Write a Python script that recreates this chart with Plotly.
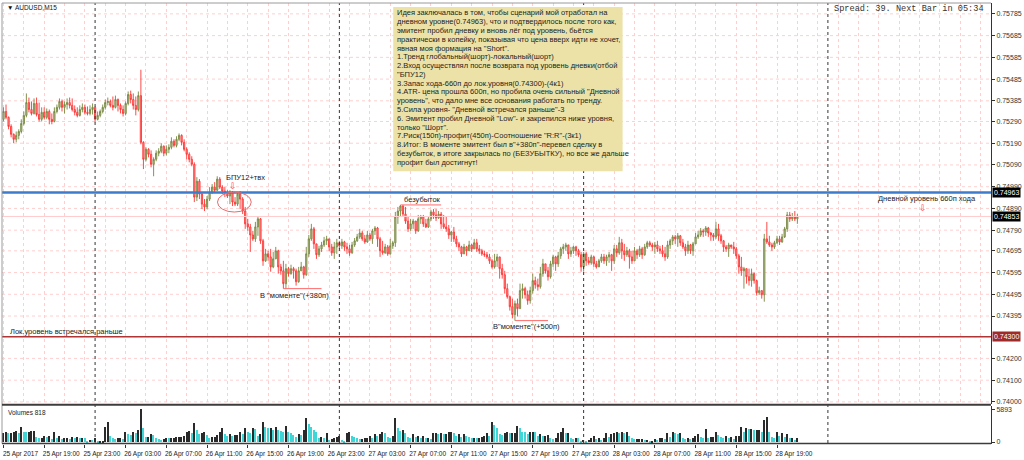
import pandas as pd
import plotly.graph_objects as go

# ---------------- AUDUSD M15 bars, 25 Apr 2017 15:00 onward ----------------
bar_open = [
    0.75300, 0.75336, 0.75309, 0.75267, 0.75231, 0.75208, 0.75226, 0.75244, 0.75281, 0.75318,
    0.75377, 0.75345, 0.75327, 0.75373, 0.75322, 0.75300, 0.75332, 0.75309, 0.75336, 0.75300,
    0.75290, 0.75336, 0.75355, 0.75382, 0.75355, 0.75368, 0.75377, 0.75364, 0.75345, 0.75332,
    0.75318, 0.75345, 0.75355, 0.75332, 0.75327, 0.75345, 0.75355, 0.75300, 0.75318, 0.75336,
    0.75355, 0.75377, 0.75382, 0.75364, 0.75355, 0.75391, 0.75364, 0.75345, 0.75327, 0.75373,
    0.75414, 0.75391, 0.75364, 0.75345, 0.75409, 0.75194, 0.75116, 0.75162, 0.75139, 0.75093,
    0.75116, 0.75144, 0.75153, 0.75176, 0.75144, 0.75162, 0.75171, 0.75199, 0.75180, 0.75208,
    0.75226, 0.75194, 0.75162, 0.75139, 0.75116, 0.75093, 0.74942, 0.75015, 0.74956, 0.74910,
    0.74897, 0.74933, 0.74965, 0.74988, 0.74974, 0.75025, 0.74988, 0.74970, 0.74961, 0.74947,
    0.74965, 0.74919, 0.74910, 0.74956, 0.74933, 0.74878, 0.74819, 0.74805, 0.74768, 0.74750,
    0.74805, 0.74842, 0.74741, 0.74649, 0.74681, 0.74667, 0.74621, 0.74658, 0.74695, 0.74621,
    0.74603, 0.74544, 0.74613, 0.74590, 0.74613, 0.74603, 0.74553, 0.74603, 0.74621, 0.74585,
    0.74681, 0.74750, 0.74796, 0.74727, 0.74677, 0.74704, 0.74722, 0.74741, 0.74750, 0.74713,
    0.74686, 0.74713, 0.74732, 0.74718, 0.74736, 0.74713, 0.74704, 0.74686, 0.74722, 0.74741,
    0.74759, 0.74777, 0.74750, 0.74736, 0.74768, 0.74750, 0.74787, 0.74800, 0.74750, 0.74695,
    0.74686, 0.74713, 0.74681, 0.74718, 0.74732, 0.74851, 0.74878, 0.74901, 0.74864, 0.74832,
    0.74796, 0.74819, 0.74832, 0.74787, 0.74842, 0.74851, 0.74819, 0.74805, 0.74842, 0.74874,
    0.74860, 0.74846, 0.74864, 0.74819, 0.74805, 0.74796, 0.74768, 0.74782, 0.74750, 0.74727,
    0.74713, 0.74681, 0.74713, 0.74695, 0.74722, 0.74704, 0.74732, 0.74704, 0.74695, 0.74681,
    0.74677, 0.74667, 0.74649, 0.74621, 0.74649, 0.74667, 0.74613, 0.74585, 0.74521, 0.74484,
    0.74438, 0.74402, 0.74452, 0.74429, 0.74512, 0.74521, 0.74493, 0.74466, 0.74512, 0.74558,
    0.74539, 0.74530, 0.74590, 0.74635, 0.74603, 0.74576, 0.74635, 0.74667, 0.74635, 0.74672,
    0.74704, 0.74713, 0.74722, 0.74681, 0.74695, 0.74713, 0.74695, 0.74677, 0.74621, 0.74681,
    0.74649, 0.74640, 0.74667, 0.74635, 0.74621, 0.74649, 0.74667, 0.74649, 0.74667, 0.74677,
    0.74649, 0.74704, 0.74686, 0.74732, 0.74695, 0.74677, 0.74695, 0.74667, 0.74649, 0.74695,
    0.74677, 0.74704, 0.74677, 0.74713, 0.74732, 0.74722, 0.74713, 0.74722, 0.74704, 0.74695,
    0.74681, 0.74667, 0.74722, 0.74741, 0.74759, 0.74750, 0.74764, 0.74732, 0.74713, 0.74695,
    0.74722, 0.74695, 0.74727, 0.74759, 0.74768, 0.74787, 0.74782, 0.74800, 0.74777, 0.74768,
    0.74759, 0.74796, 0.74764, 0.74741, 0.74713, 0.74704, 0.74722, 0.74713, 0.74704, 0.74672,
    0.74621, 0.74603, 0.74613, 0.74576, 0.74558, 0.74590, 0.74558, 0.74502, 0.74512, 0.74493,
    0.74750, 0.74736, 0.74722, 0.74713, 0.74732, 0.74750, 0.74736, 0.74759, 0.74796, 0.74860,
    0.74842, 0.74851, 0.74842,
]

bar_close = [
    0.75336, 0.75309, 0.75267, 0.75231, 0.75208, 0.75226, 0.75244, 0.75281, 0.75318, 0.75377,
    0.75345, 0.75327, 0.75373, 0.75322, 0.75300, 0.75332, 0.75309, 0.75336, 0.75300, 0.75290,
    0.75336, 0.75355, 0.75382, 0.75355, 0.75368, 0.75377, 0.75364, 0.75345, 0.75332, 0.75318,
    0.75345, 0.75355, 0.75332, 0.75327, 0.75345, 0.75355, 0.75300, 0.75318, 0.75336, 0.75355,
    0.75377, 0.75382, 0.75364, 0.75355, 0.75391, 0.75364, 0.75345, 0.75327, 0.75373, 0.75414,
    0.75391, 0.75364, 0.75345, 0.75409, 0.75194, 0.75116, 0.75162, 0.75139, 0.75093, 0.75116,
    0.75144, 0.75153, 0.75176, 0.75144, 0.75162, 0.75171, 0.75199, 0.75180, 0.75208, 0.75226,
    0.75194, 0.75162, 0.75139, 0.75116, 0.75093, 0.74942, 0.75015, 0.74956, 0.74910, 0.74897,
    0.74933, 0.74965, 0.74988, 0.74974, 0.75025, 0.74988, 0.74970, 0.74961, 0.74947, 0.74965,
    0.74919, 0.74910, 0.74956, 0.74933, 0.74878, 0.74819, 0.74805, 0.74768, 0.74750, 0.74805,
    0.74842, 0.74741, 0.74649, 0.74681, 0.74667, 0.74621, 0.74658, 0.74695, 0.74621, 0.74603,
    0.74544, 0.74613, 0.74590, 0.74613, 0.74603, 0.74553, 0.74603, 0.74621, 0.74585, 0.74681,
    0.74750, 0.74796, 0.74727, 0.74677, 0.74704, 0.74722, 0.74741, 0.74750, 0.74713, 0.74686,
    0.74713, 0.74732, 0.74718, 0.74736, 0.74713, 0.74704, 0.74686, 0.74722, 0.74741, 0.74759,
    0.74777, 0.74750, 0.74736, 0.74768, 0.74750, 0.74787, 0.74800, 0.74750, 0.74695, 0.74686,
    0.74713, 0.74681, 0.74718, 0.74732, 0.74851, 0.74878, 0.74901, 0.74864, 0.74832, 0.74796,
    0.74819, 0.74832, 0.74787, 0.74842, 0.74851, 0.74819, 0.74805, 0.74842, 0.74874, 0.74860,
    0.74846, 0.74864, 0.74819, 0.74805, 0.74796, 0.74768, 0.74782, 0.74750, 0.74727, 0.74713,
    0.74681, 0.74713, 0.74695, 0.74722, 0.74704, 0.74732, 0.74704, 0.74695, 0.74681, 0.74677,
    0.74667, 0.74649, 0.74621, 0.74649, 0.74667, 0.74613, 0.74585, 0.74521, 0.74484, 0.74438,
    0.74402, 0.74452, 0.74429, 0.74512, 0.74521, 0.74493, 0.74466, 0.74512, 0.74558, 0.74539,
    0.74530, 0.74590, 0.74635, 0.74603, 0.74576, 0.74635, 0.74667, 0.74635, 0.74672, 0.74704,
    0.74713, 0.74722, 0.74681, 0.74695, 0.74713, 0.74695, 0.74677, 0.74621, 0.74681, 0.74649,
    0.74640, 0.74667, 0.74635, 0.74621, 0.74649, 0.74667, 0.74649, 0.74667, 0.74677, 0.74649,
    0.74704, 0.74686, 0.74732, 0.74695, 0.74677, 0.74695, 0.74667, 0.74649, 0.74695, 0.74677,
    0.74704, 0.74677, 0.74713, 0.74732, 0.74722, 0.74713, 0.74722, 0.74704, 0.74695, 0.74681,
    0.74667, 0.74722, 0.74741, 0.74759, 0.74750, 0.74764, 0.74732, 0.74713, 0.74695, 0.74722,
    0.74695, 0.74727, 0.74759, 0.74768, 0.74787, 0.74782, 0.74800, 0.74777, 0.74768, 0.74759,
    0.74796, 0.74764, 0.74741, 0.74713, 0.74704, 0.74722, 0.74713, 0.74704, 0.74672, 0.74621,
    0.74603, 0.74613, 0.74576, 0.74558, 0.74590, 0.74558, 0.74502, 0.74512, 0.74493, 0.74750,
    0.74736, 0.74722, 0.74713, 0.74732, 0.74750, 0.74736, 0.74759, 0.74796, 0.74860, 0.74842,
    0.74851, 0.74842, 0.74853,
]

bar_high = [
    0.75355, 0.75368, 0.75313, 0.75277, 0.75235, 0.75244, 0.75254, 0.75300, 0.75336, 0.75419,
    0.75400, 0.75382, 0.75396, 0.75400, 0.75377, 0.75355, 0.75355, 0.75350, 0.75345, 0.75327,
    0.75355, 0.75368, 0.75396, 0.75391, 0.75382, 0.75396, 0.75400, 0.75396, 0.75364, 0.75355,
    0.75364, 0.75373, 0.75368, 0.75359, 0.75364, 0.75373, 0.75359, 0.75336, 0.75345, 0.75368,
    0.75391, 0.75400, 0.75391, 0.75405, 0.75409, 0.75396, 0.75373, 0.75364, 0.75382, 0.75428,
    0.75432, 0.75419, 0.75405, 0.75428, 0.75528, 0.75199, 0.75171, 0.75167, 0.75157, 0.75125,
    0.75157, 0.75167, 0.75190, 0.75180, 0.75180, 0.75185, 0.75217, 0.75208, 0.75222, 0.75235,
    0.75231, 0.75208, 0.75171, 0.75148, 0.75130, 0.75102, 0.75034, 0.75025, 0.74965, 0.74933,
    0.74947, 0.74988, 0.75002, 0.75011, 0.75038, 0.75034, 0.74997, 0.74988, 0.74974, 0.74974,
    0.74970, 0.74942, 0.74965, 0.74970, 0.74942, 0.74897, 0.74842, 0.74819, 0.74787, 0.74828,
    0.74855, 0.74846, 0.74750, 0.74704, 0.74695, 0.74704, 0.74690, 0.74713, 0.74700, 0.74635,
    0.74649, 0.74635, 0.74621, 0.74631, 0.74621, 0.74613, 0.74621, 0.74644, 0.74626, 0.74713,
    0.74768, 0.74819, 0.74805, 0.74727, 0.74718, 0.74736, 0.74759, 0.74764, 0.74750, 0.74727,
    0.74736, 0.74750, 0.74741, 0.74750, 0.74741, 0.74732, 0.74722, 0.74736, 0.74754, 0.74773,
    0.74796, 0.74787, 0.74768, 0.74787, 0.74777, 0.74796, 0.74809, 0.74805, 0.74759, 0.74741,
    0.74727, 0.74722, 0.74750, 0.74741, 0.74874, 0.74897, 0.74906, 0.74906, 0.74897, 0.74851,
    0.74842, 0.74842, 0.74832, 0.74860, 0.74860, 0.74860, 0.74842, 0.74851, 0.74883, 0.74887,
    0.74887, 0.74878, 0.74874, 0.74860, 0.74851, 0.74814, 0.74787, 0.74805, 0.74764, 0.74736,
    0.74718, 0.74727, 0.74718, 0.74741, 0.74727, 0.74750, 0.74750, 0.74722, 0.74704, 0.74695,
    0.74690, 0.74681, 0.74658, 0.74681, 0.74681, 0.74667, 0.74635, 0.74603, 0.74544, 0.74489,
    0.74475, 0.74466, 0.74475, 0.74544, 0.74544, 0.74530, 0.74512, 0.74530, 0.74590, 0.74576,
    0.74567, 0.74621, 0.74658, 0.74635, 0.74621, 0.74649, 0.74677, 0.74672, 0.74690, 0.74713,
    0.74727, 0.74732, 0.74722, 0.74713, 0.74718, 0.74718, 0.74704, 0.74690, 0.74690, 0.74690,
    0.74667, 0.74677, 0.74672, 0.74649, 0.74658, 0.74681, 0.74681, 0.74677, 0.74690, 0.74681,
    0.74722, 0.74722, 0.74759, 0.74750, 0.74727, 0.74713, 0.74704, 0.74695, 0.74713, 0.74704,
    0.74718, 0.74713, 0.74727, 0.74741, 0.74741, 0.74732, 0.74736, 0.74741, 0.74718, 0.74722,
    0.74713, 0.74741, 0.74750, 0.74768, 0.74768, 0.74777, 0.74768, 0.74750, 0.74727, 0.74741,
    0.74727, 0.74736, 0.74777, 0.74787, 0.74800, 0.74796, 0.74809, 0.74805, 0.74782, 0.74777,
    0.74828, 0.74819, 0.74773, 0.74745, 0.74722, 0.74732, 0.74722, 0.74736, 0.74713, 0.74681,
    0.74667, 0.74621, 0.74613, 0.74613, 0.74613, 0.74595, 0.74562, 0.74530, 0.74512, 0.74773,
    0.74828, 0.74764, 0.74732, 0.74741, 0.74764, 0.74764, 0.74773, 0.74805, 0.74874, 0.74874,
    0.74869, 0.74878, 0.74864,
]

bar_low = [
    0.75290, 0.75300, 0.75254, 0.75217, 0.75190, 0.75194, 0.75208, 0.75235, 0.75272, 0.75309,
    0.75332, 0.75318, 0.75322, 0.75313, 0.75290, 0.75290, 0.75300, 0.75300, 0.75277, 0.75277,
    0.75286, 0.75327, 0.75345, 0.75336, 0.75327, 0.75345, 0.75350, 0.75336, 0.75318, 0.75309,
    0.75313, 0.75332, 0.75322, 0.75318, 0.75318, 0.75322, 0.75286, 0.75295, 0.75309, 0.75327,
    0.75345, 0.75364, 0.75355, 0.75341, 0.75350, 0.75336, 0.75327, 0.75313, 0.75318, 0.75364,
    0.75373, 0.75345, 0.75318, 0.75336, 0.75185, 0.75071, 0.75107, 0.75125, 0.75079, 0.75038,
    0.75107, 0.75130, 0.75144, 0.75130, 0.75134, 0.75144, 0.75162, 0.75171, 0.75171, 0.75199,
    0.75180, 0.75153, 0.75116, 0.75102, 0.75084, 0.74919, 0.74924, 0.74933, 0.74887, 0.74878,
    0.74887, 0.74924, 0.74956, 0.74965, 0.74970, 0.74979, 0.74956, 0.74942, 0.74938, 0.74910,
    0.74901, 0.74901, 0.74901, 0.74887, 0.74864, 0.74796, 0.74787, 0.74690, 0.74741, 0.74736,
    0.74764, 0.74727, 0.74626, 0.74644, 0.74649, 0.74599, 0.74615, 0.74658, 0.74590, 0.74585,
    0.74521, 0.74521, 0.74576, 0.74585, 0.74567, 0.74535, 0.74548, 0.74603, 0.74567, 0.74580,
    0.74667, 0.74741, 0.74704, 0.74658, 0.74667, 0.74690, 0.74713, 0.74722, 0.74695, 0.74672,
    0.74658, 0.74681, 0.74704, 0.74704, 0.74695, 0.74681, 0.74672, 0.74681, 0.74713, 0.74736,
    0.74750, 0.74741, 0.74727, 0.74732, 0.74741, 0.74727, 0.74768, 0.74713, 0.74667, 0.74677,
    0.74681, 0.74672, 0.74677, 0.74704, 0.74713, 0.74819, 0.74851, 0.74851, 0.74819, 0.74782,
    0.74787, 0.74796, 0.74773, 0.74782, 0.74819, 0.74805, 0.74800, 0.74800, 0.74832, 0.74842,
    0.74832, 0.74842, 0.74796, 0.74796, 0.74782, 0.74750, 0.74736, 0.74736, 0.74713, 0.74695,
    0.74667, 0.74681, 0.74672, 0.74695, 0.74690, 0.74704, 0.74690, 0.74681, 0.74672, 0.74667,
    0.74658, 0.74635, 0.74613, 0.74613, 0.74621, 0.74567, 0.74567, 0.74498, 0.74475, 0.74420,
    0.74384, 0.74374, 0.74393, 0.74429, 0.74475, 0.74475, 0.74447, 0.74452, 0.74498, 0.74521,
    0.74512, 0.74521, 0.74576, 0.74590, 0.74558, 0.74567, 0.74621, 0.74603, 0.74621, 0.74658,
    0.74681, 0.74695, 0.74658, 0.74667, 0.74681, 0.74672, 0.74667, 0.74599, 0.74599, 0.74626,
    0.74631, 0.74631, 0.74621, 0.74613, 0.74621, 0.74640, 0.74635, 0.74626, 0.74640, 0.74603,
    0.74635, 0.74667, 0.74677, 0.74658, 0.74649, 0.74667, 0.74613, 0.74635, 0.74649, 0.74658,
    0.74667, 0.74658, 0.74672, 0.74704, 0.74713, 0.74695, 0.74681, 0.74690, 0.74681, 0.74667,
    0.74649, 0.74658, 0.74704, 0.74722, 0.74727, 0.74713, 0.74718, 0.74704, 0.74672, 0.74681,
    0.74681, 0.74672, 0.74727, 0.74750, 0.74759, 0.74759, 0.74764, 0.74759, 0.74741, 0.74741,
    0.74750, 0.74741, 0.74727, 0.74690, 0.74690, 0.74667, 0.74704, 0.74681, 0.74658, 0.74590,
    0.74580, 0.74521, 0.74544, 0.74535, 0.74530, 0.74544, 0.74489, 0.74493, 0.74475, 0.74461,
    0.74727, 0.74713, 0.74695, 0.74704, 0.74727, 0.74722, 0.74732, 0.74754, 0.74782, 0.74828,
    0.74832, 0.74832, 0.74819,
]

bar_volume = [
    1613, 1791, 1613, 1613, 1910, 2089, 1613, 2803, 1910, 1791,
    1910, 2029, 2029, 1018, 839, 839, 1196, 1018, 1196, 601,
    1910, 839, 1196, 601, 720, 839, 601, 958, 839, 1018,
    720, 839, 720, 244, 482, 423, 720, 125, 244, 244,
    2803, 3695, 1196, 720, 601, 720, 839, 601, 1791, 1434,
    1315, 1791, 1613, 2208, 5893, 2505, 1018, 1018, 1434, 1315,
    839, 601, 423, 541, 839, 720, 839, 839, 899, 1018,
    1018, 1196, 1910, 2029, 1613, 3398, 2208, 1434, 1613, 1910,
    1315, 839, 1018, 1018, 1315, 1791, 2624, 1434, 1196, 1434,
    1196, 1315, 1315, 1791, 1434, 2505, 1791, 1613, 2505, 2386,
    1196, 1434, 3695, 2803, 2505, 2505, 2208, 2803, 2208, 2029,
    1791, 2981, 1791, 1613, 1315, 1018, 1434, 1315, 2208, 4409,
    3219, 2803, 2208, 1791, 839, 1018, 839, 1613, 423, 601,
    720, 1018, 1196, 423, 125, 1613, 1791, 1196, 1018, 720,
    601, 601, 720, 839, 1196, 839, 1434, 1196, 1434, 1791,
    1613, 1018, 839, 1196, 4290, 2505, 2029, 2208, 1613, 1018,
    720, 1434, 1018, 1196, 839, 1196, 720, 839, 601, 1613,
    1613, 1434, 1613, 1434, 1434, 1791, 1910, 1613, 1196, 1434,
    1018, 1434, 1196, 1018, 720, 839, 720, 839, 1018, 1196,
    1613, 1196, 3695, 3100, 2624, 1434, 1315, 1613,
    1910, 1613, 1613, 1613, 2981, 2505, 1910, 1791, 1434, 1791,
    1910, 1791, 1196, 1434, 1196, 1196, 1315, 720, 601, 720,
    1613, 1791, 2505, 1613, 1613, 839, 601, 839, 720, 125,
    423, 244, 423, 720, 1196, 601, 720, 423, 720, 1613,
    1018, 1434, 1613, 1791, 1613, 1791, 1613, 1910, 1196, 720,
    601, 601, 601, 601, 423, 423, 244, 244, 601, 423,
    720, 839, 601, 1613, 1018, 1791, 1613, 1434, 1613, 839,
    601, 720, 601, 720, 1196, 1434, 1018, 720, 2386, 839,
    1018, 1018, 1791, 1315, 1018, 839, 1196, 839, 1018, 601,
    1196, 1196, 2803, 1791, 2624, 2386, 2386, 2208, 2208, 2208,
    1791, 3993, 4588, 1791, 1018, 839, 1791, 1196, 1613, 1018,
    1434, 720, 720, 423, 818,
]

# Horizontal levels
daily_level = 0.74963
local_level = 0.74300
bid_price = bar_close[-1]

# Right-hand price scale labels
price_ticks = [0.75785, 0.75685, 0.75585, 0.75485, 0.75385, 0.75290, 0.75190, 0.75090,
               0.74990, 0.74890, 0.74790, 0.74695, 0.74595, 0.74495, 0.74395, 0.74200,
               0.74100, 0.74000]
grid_prices = price_ticks + [0.74300]
volume_ticks = [0, 5893]

note_lines = [
    "Идея заключалась в том, чтобы сценарий мой отработал на",
    "дневном уровне(0.74963), что и подтвердилось после того как,",
    "эмитент пробил дневку и вновь лёг под уровень, бьётся",
    "практически в копейку, показывая что цена вверх идти не хочет,",
    "явная моя формация на \"Short\".",
    "1.Тренд глобальный(шорт)-локальный(шорт)",
    "2.Вход осуществлял после возврата под уровень дневки(отбой",
    "\"БПУ12)",
    "3.Запас хода-660п до лок.уровня(0.74300)-(4к1)",
    "4.ATR- цена прошла 600п, но пробила очень сильный \"Дневной",
    "уровень\", что дало мне все основания работать по тренду.",
    "5.Сила уровня- \"Дневной встречался раньше\"-3",
    "6. Эмитент пробил Дневной \"Low\"- и закрепился ниже уровня,",
    "только \"Шорт\".",
    "7.Риск(150п)-профит(450п)-Соотношение \"R:R\"-(3к1)",
    "8.Итог: В моменте эмитент был в\"+380п\"-перевел сделку в",
    "безубыток, в итоге закрылась по (БЕЗУБЫТКУ), но все же дальше",
    "профит был достигнут!",
]

# ---------------- geometry helpers (pixel -> paper) ----------------
W, H = 1024, 460
ML, MR, MT, MB = 2, 26, 3, 14
PW, PH = W - ML - MR, H - MT - MB


def px(x):
    return (x - ML) / PW


def py(y):
    return 1 - (y - MT) / PH


STEP = pd.Timedelta(minutes=15)
bar_times = pd.date_range("2017-04-25 15:00", periods=len(bar_close), freq="15min")
t0 = bar_times[0]
x_range = [t0 - 0.585 * STEP, t0 + 388.1 * STEP]

label_times = pd.date_range("2017-04-25 15:00", "2017-04-28 19:00", freq="4h")
label_text = ["25 Apr 2017"] + [f"{t.day} Apr {t:%H:%M}" for t in label_times[1:]]
day_breaks = pd.date_range("2017-04-26", "2017-04-29", freq="D")

FONT = "Liberation Sans, Arial, sans-serif"
GRID = "#ffcfcf"

fig = go.Figure()

fig.add_trace(go.Candlestick(
    x=bar_times, open=bar_open, high=bar_high, low=bar_low, close=bar_close,
    xaxis="x", yaxis="y",
    increasing=dict(line=dict(color="#76883f", width=0.9), fillcolor="#bcc5a2"),
    decreasing=dict(line=dict(color="#ff3434", width=0.9), fillcolor="#ff9c9c"),
    whiskerwidth=0, showlegend=False, hoverinfo="skip",
))

vol_colors = ["#2a2a2a" if i == 0 or v >= bar_volume[i - 1] else "#3fd6d8"
              for i, v in enumerate(bar_volume)]
fig.add_trace(go.Bar(
    x=bar_times, y=bar_volume, xaxis="x2", yaxis="y2",
    marker=dict(color=vol_colors, line=dict(width=0)),
    width=STEP.total_seconds() * 1000 * 0.5,
    showlegend=False, hoverinfo="skip",
))

shapes = []
# horizontal grid on the price panel
for g in grid_prices:
    shapes.append(dict(type="line", xref="paper", yref="y", x0=0, x1=1, y0=g, y1=g,
                       line=dict(color=GRID, width=1, dash="3px,3px"), layer="below"))
# bid line, daily level, local level
shapes.append(dict(type="line", xref="paper", yref="y", x0=0, x1=1, y0=bid_price, y1=bid_price,
                   line=dict(color="#ffcccc", width=1)))
shapes.append(dict(type="line", xref="paper", yref="y", x0=0, x1=1, y0=daily_level, y1=daily_level,
                   line=dict(color="#3d7ccc", width=2.6)))
shapes.append(dict(type="line", xref="paper", yref="y", x0=0, x1=1, y0=local_level, y1=local_level,
                   line=dict(color="#b03434", width=1.5)))
# day separators
for d in day_breaks:
    shapes.append(dict(type="line", xref="x", yref="paper", x0=d, x1=d, y0=py(445), y1=1,
                       line=dict(color="#333333", width=1, dash="dot")))
# marked extremes
shapes.append(dict(type="line", xref="x", yref="y", x0=bar_times[156], x1=bar_times[172],
                   y0=bar_high[156], y1=bar_high[156], line=dict(color="#ff6a6a", width=1)))
shapes.append(dict(type="line", xref="x", yref="y", x0=bar_times[110], x1=bar_times[125],
                   y0=bar_low[110], y1=bar_low[110], line=dict(color="#ff6a6a", width=1)))
shapes.append(dict(type="line", xref="x", yref="y", x0=bar_times[201], x1=bar_times[214],
                   y0=bar_low[201], y1=bar_low[201], line=dict(color="#ff6a6a", width=1)))
# entry zone ellipse
shapes.append(dict(type="circle", xref="paper", yref="paper",
                   x0=px(219), x1=px(253), y0=py(213), y1=py(193),
                   line=dict(color="#e86a6a", width=1)))
# note box
shapes.append(dict(type="rect", xref="paper", yref="paper",
                   x0=px(396), x1=px(627), y0=py(172), y1=py(7),
                   fillcolor="#ece2a8", line=dict(width=0)))
# frame and panel separator
shapes += [
    dict(type="line", xref="paper", yref="paper", x0=0, x1=1, y0=1, y1=1,
         line=dict(color="#9a9a9a", width=1)),
    dict(type="line", xref="paper", yref="paper", x0=0, x1=0, y0=py(445.5), y1=1,
         line=dict(color="#9a9a9a", width=1)),
    dict(type="line", xref="paper", yref="paper", x0=0, x1=1, y0=py(406.5), y1=py(406.5),
         line=dict(color="#3c3c3c", width=2)),
    dict(type="line", xref="paper", yref="paper", x0=0, x1=1, y0=py(445.5), y1=py(445.5),
         line=dict(color="#3c3c3c", width=1.5)),
]

ann = []


def text(x, y, s, size=7.5, color="#222222", family=FONT, anchor="left"):
    ann.append(dict(xref="paper", yref="paper", x=px(x), y=py(y), text=s, showarrow=False,
                    xanchor=anchor, yanchor="middle", font=dict(size=size, color=color, family=family)))


for k, line in enumerate(note_lines):
    text(398, 13 + k * 8.82, line)

text(5, 8, "▼ AUDUSD,M15", size=6.5, color="#111111")
text(838, 9, "Spread: 39. Next Bar in 05:34", size=8.6, color="#333333",
     family="Liberation Mono, Courier New, monospace")
text(226, 178, "БПУ12+твх")
text(235, 186.5, "⇩", size=9, color="#ff4a4a", family="DejaVu Sans", anchor="center")
text(405, 200, "безубыток")
text(260, 297, "В \"моменте\"(+380п)")
text(494, 328, "В\"моменте\"(+500п)")
text(882, 199, "Дневной уровень 660п хода")
text(930, 208.5, "⇩", size=9, color="#ff4a4a", family="DejaVu Sans", anchor="center")
text(8, 332.5, "Лок.уровень встречался раньше")
text(6, 414, "Volumes 818", size=6.5, color="#222222")

# level price boxes on the right scale
for lvl, bg in [(daily_level, "#000000"), (bid_price, "#000000"), (local_level, "#9e2a2a")]:
    ann.append(dict(xref="paper", yref="y", x=1, y=lvl, text=f"{lvl:.5f}", showarrow=False,
                    xanchor="left", yanchor="middle", xshift=1, bgcolor=bg, borderpad=1,
                    font=dict(size=7, color="#ffffff", family=FONT)))

fig.update_layout(
    width=W, height=H,
    margin=dict(l=ML, r=MR, t=MT, b=MB),
    paper_bgcolor="#ffffff", plot_bgcolor="#ffffff",
    showlegend=False, bargap=0,
    xaxis=dict(
        domain=[0, 1], anchor="y", type="date", range=x_range,
        rangeslider=dict(visible=False), showticklabels=False,
        showgrid=True, gridcolor=GRID, griddash="3px,3px", gridwidth=1,
        tick0="2017-04-25 17:00", dtick=2 * 3600 * 1000, ticks="",
        zeroline=False, showline=False,
    ),
    yaxis=dict(
        domain=[py(406), 1], anchor="x", side="right", range=[0.739895, 0.75835],
        tickmode="array", tickvals=price_ticks, ticktext=[f"{v:.5f}" for v in price_ticks],
        tickfont=dict(size=7, color="#333333", family=FONT),
        ticks="outside", ticklen=3, tickcolor="#333333",
        showgrid=False, zeroline=False,
        showline=True, linecolor="#333333", linewidth=1,
    ),
    xaxis2=dict(
        domain=[0, 1], anchor="y2", type="date", matches="x",
        tickmode="array", tickvals=label_times, ticktext=label_text,
        tickfont=dict(size=6.5, color="#222222", family=FONT),
        ticks="outside", ticklen=3, tickcolor="#333333", ticklabelshift=17,
        showgrid=False, zeroline=False, showline=False,
    ),
    yaxis2=dict(
        domain=[0, py(407.5)], anchor="x2", side="right", range=[-357, 6519],
        tickmode="array", tickvals=volume_ticks, ticktext=[str(v) for v in volume_ticks],
        tickfont=dict(size=7, color="#333333", family=FONT),
        ticks="outside", ticklen=3, tickcolor="#333333",
        showgrid=False, zeroline=False,
        showline=True, linecolor="#333333", linewidth=1,
    ),
    shapes=shapes,
    annotations=ann,
)

fig.write_html("out.html")
